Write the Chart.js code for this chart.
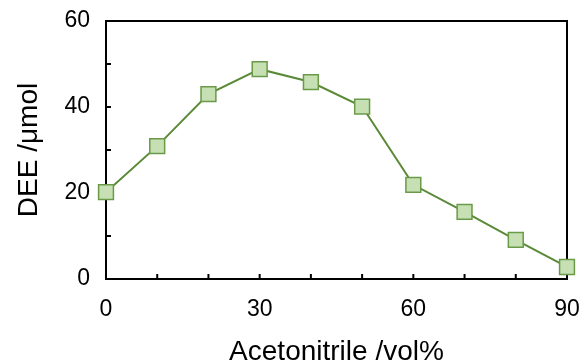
<!DOCTYPE html>
<html>
<head>
<meta charset="utf-8">
<script src="https://cdn.jsdelivr.net/npm/chart.js@4/dist/chart.umd.min.js"></script>
<style>
  html, body { margin: 0; padding: 0; background: #fff; }
  #wrap { width: 583px; height: 364px; }
</style>
</head>
<body>
<div id="wrap"><canvas id="c" width="583" height="364"></canvas></div>
<script>
// data
const acetonitrile = [0, 10, 20, 30, 40, 50, 60, 70, 80, 90];
const dee = [20.2, 30.9, 43.0, 48.8, 45.8, 40.1, 21.9, 15.6, 9.1, 2.8];
const xLabels = [0, 30, 60, 90];
const yLabels = [0, 20, 40, 60];

// box round the plot + inward tick marks
const frame = {
  id: 'frame',
  beforeDatasetsDraw(chart) {
    const ctx = chart.ctx, a = chart.chartArea;
    const xs = chart.scales.x, ys = chart.scales.y;
    ctx.save();
    ctx.strokeStyle = '#000';
    ctx.lineWidth = 2;
    ctx.strokeRect(a.left, a.top, a.right - a.left, a.bottom - a.top);
    ctx.beginPath();
    for (let v = 10; v < 90; v += 10) {
      const px = xs.getPixelForValue(v);
      ctx.moveTo(px, a.bottom); ctx.lineTo(px, a.bottom - 5);
    }
    for (let v = 10; v < 60; v += 10) {
      const py = ys.getPixelForValue(v);
      ctx.moveTo(a.left, py); ctx.lineTo(a.left + 5, py);
    }
    ctx.stroke();
    ctx.restore();
  }
};

const fnt = 'Liberation Sans, Arial, sans-serif';

new Chart(document.getElementById('c'), {
  type: 'line',
  data: {
    datasets: [{
      data: acetonitrile.map((x, i) => ({ x: x, y: dee[i] })),
      borderColor: '#5a8a38',
      borderWidth: 2,
      pointStyle: 'rect',
      pointRadius: 10.5,
      pointBackgroundColor: '#c6e0b4',
      pointBorderColor: '#6a9a48',
      pointBorderWidth: 1.5,
      tension: 0,
      clip: false
    }]
  },
  options: {
    responsive: false,
    animation: false,
    layout: { padding: { top: 21, right: 16, left: 0, bottom: 0 } },
    plugins: { legend: { display: false }, tooltip: { enabled: false } },
    scales: {
      x: {
        type: 'linear', min: 0, max: 90,
        afterFit(s) { s.height = 85; s.paddingLeft = 0; s.paddingRight = 0; },
        afterBuildTicks(s) { s.ticks = xLabels.map(v => ({ value: v })); },
        grid: { display: false, drawTicks: false },
        border: { display: false },
        ticks: { color: '#000', padding: 17, maxRotation: 0, font: { family: fnt, size: 23 } },
        title: { display: true, text: 'Acetonitrile /vol%', color: '#000', padding: { top: 0, bottom: -5 }, font: { family: fnt, size: 28 } }
      },
      y: {
        min: 0, max: 60,
        afterFit(s) { s.width = 106; s.paddingTop = 0; s.paddingBottom = 0; },
        afterBuildTicks(s) { s.ticks = yLabels.map(v => ({ value: v })); },
        grid: { display: false, drawTicks: false },
        border: { display: false },
        ticks: { color: '#000', padding: 16, font: { family: fnt, size: 23 } },
        title: { display: true, text: 'DEE /μmol', color: '#000', padding: { top: 12, bottom: 0 }, font: { family: fnt, size: 28 } }
      }
    }
  },
  plugins: [frame]
});
</script>
</body>
</html>
